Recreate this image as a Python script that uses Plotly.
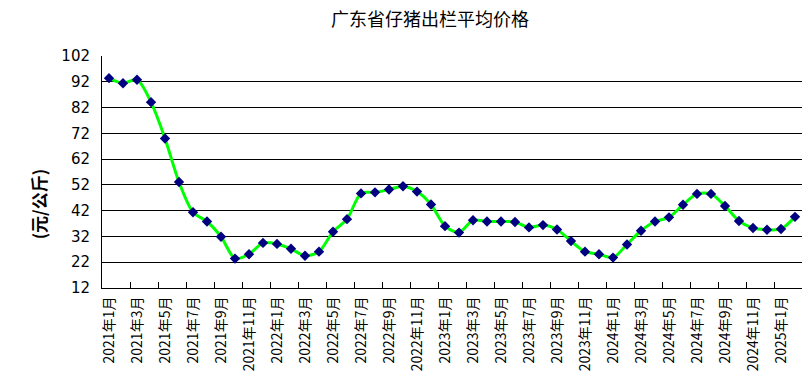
import plotly.graph_objects as go

months = []
for y in range(2021, 2026):
    for m in range(1, 13):
        months.append(f"{y}年{m}月")
months = months[:50]  # 2021年1月 .. 2025年2月

prices = [93.4, 91.4, 92.8, 84.1, 70.0, 53.1, 41.4, 37.8, 31.9, 23.4,
          25.1, 29.5, 29.1, 27.2, 24.5, 26.1, 33.8, 38.7, 48.7, 49.1,
          50.2, 51.5, 49.4, 44.4, 36.0, 33.5, 38.3, 37.8, 37.8, 37.6,
          35.5, 36.4, 34.7, 30.2, 26.1, 25.1, 23.8, 28.9, 34.2, 37.8,
          39.4, 44.3, 48.5, 48.5, 43.8, 38.0, 35.3, 34.6, 34.9, 39.6]

y_ticks = list(range(12, 103, 10))
grid_vals = list(range(22, 93, 10))
label_cats = months[::2]
boundary_vals = [i - 0.5 for i in range(0, len(months) + 1, 2)]

FONT = "Noto Sans CJK SC"

fig = go.Figure()
fig.add_trace(go.Scatter(
    x=months, y=prices, mode="lines+markers",
    line=dict(color="#00FF00", width=3, shape="spline", smoothing=0.8),
    marker=dict(symbol="diamond", color="#000080", size=8),
    showlegend=False, xaxis="x", yaxis="y", cliponaxis=False,
))
# invisible trace to activate the helper axes
fig.add_trace(go.Scatter(x=[None], y=[None], xaxis="x2", yaxis="y2",
                         showlegend=False, hoverinfo="skip"))

rng_x = [-0.5, len(months) - 0.5]
fig.update_layout(
    width=810, height=385,
    margin=dict(l=102, r=8, t=56, b=97, autoexpand=False),
    paper_bgcolor="white", plot_bgcolor="white",
    font=dict(family=FONT, color="black"),
    title=dict(text="广东省仔猪出栏平均价格", x=0.531, xref="container",
               y=0.948, yref="container", xanchor="center", yanchor="middle",
               font=dict(size=18, family=FONT, color="black")),
    xaxis=dict(type="category", categoryorder="array", categoryarray=months,
               range=rng_x, tickmode="array", tickvals=label_cats,
               ticktext=label_cats, tickangle=-90, ticks="",
               showgrid=False, showline=True, linecolor="black", linewidth=1,
               tickfont=dict(size=14, family=FONT), zeroline=False,
               automargin=False, ticklabelstandoff=2),
    xaxis2=dict(overlaying="x", range=rng_x, tickmode="array",
                tickvals=boundary_vals, ticks="inside", ticklen=6,
                tickcolor="black", showticklabels=False, showgrid=False,
                showline=False, zeroline=False, side="bottom",
                anchor="y", automargin=False),
    yaxis=dict(range=[12, 102], tickmode="array", tickvals=y_ticks,
               ticks="inside", ticklen=6, tickcolor="black",
               showgrid=False, showline=True, linecolor="black", linewidth=1,
               tickfont=dict(size=15, family="Liberation Sans Narrow, DejaVu Sans"),
               zeroline=False, automargin=False, ticklabelstandoff=8),
    yaxis2=dict(overlaying="y", range=[12, 102], tickmode="array",
                tickvals=grid_vals, showgrid=True, gridcolor="black",
                gridwidth=1, showticklabels=False, ticks="",
                zeroline=False, showline=False, anchor="x", automargin=False),
)
fig.add_annotation(text="<b>(元/公斤)</b>", textangle=-90,
                   xref="paper", yref="paper", x=-0.091, y=0.362,
                   xanchor="center", yanchor="middle",
                   showarrow=False, font=dict(size=17, family=FONT, color="black"))

fig.write_html("out.html", config={"displayModeBar": False},
               post_script="document.body.style.margin='0';")
